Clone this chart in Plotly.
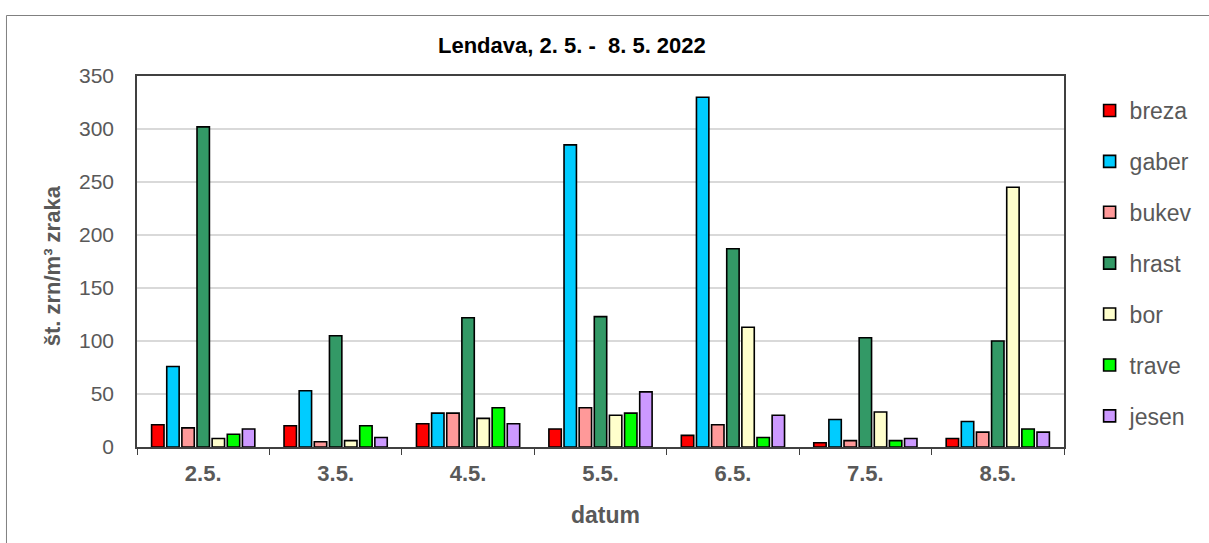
import plotly.graph_objects as go

dates = ["2.5.", "3.5.", "4.5.", "5.5.", "6.5.", "7.5.", "8.5."]
species = ["breza", "gaber", "bukev", "hrast", "bor", "trave", "jesen"]
breza = [21, 20, 22, 17, 11, 4, 8]
gaber = [76, 53, 32, 285, 330, 26, 24]
bukev = [18, 5, 32, 37, 21, 6, 14]
hrast = [302, 105, 122, 123, 187, 103, 100]
bor = [8, 6, 27, 30, 113, 33, 245]
trave = [12, 20, 37, 32, 9, 6, 17]
jesen = [17, 9, 22, 52, 30, 8, 14]
colors = ["#FF0000", "#00CCFF", "#FF9999", "#339966", "#FFFFCC", "#00FF00", "#CC99FF"]

series = [breza, gaber, bukev, hrast, bor, trave, jesen]

W, H = 1209, 543
L, R, T, B = 137, 1078, 76, 447
pw, ph = R - L, B - T

def px(x):
    return (x - L) / pw

def py(y):
    return (B - y) / ph

font = "Liberation Sans, Arial"
gray = "#595959"

fig = go.Figure()
for name, vals, c in zip(species, series, colors):
    fig.add_trace(go.Bar(
        x=dates, y=vals, name=name, legendgroup=name,
        marker=dict(color=c, line=dict(color="black", width=1.6)),
    ))

fig.update_layout(
    width=W, height=H,
    margin=dict(l=L, r=W - R, t=T, b=H - B),
    paper_bgcolor="white", plot_bgcolor="white",
    barmode="group", bargap=0.2, bargroupgap=0.18,
    showlegend=True,
    legend=dict(
        x=px(1104), y=py(89), xanchor="left", yanchor="top",
        font=dict(family=font, size=23, color=gray),
        tracegroupgap=18,
        bgcolor="rgba(0,0,0,0)",
    ),
    xaxis=dict(
        showline=True, linecolor="#404040", linewidth=1.5, mirror=True,
        ticks="outside", tickson="boundaries", ticklen=6, tickcolor="#404040",
        tickfont=dict(family=font, size=22, color=gray, weight="bold"),
        ticklabelstandoff=6,
        showgrid=False,
    ),
    yaxis=dict(
        range=[0, 350], dtick=50,
        showline=True, linecolor="#404040", linewidth=1.5, mirror=True,
        gridcolor="#D9D9D9", gridwidth=1.5,
        tickfont=dict(family=font, size=21, color=gray),
        ticklabelstandoff=17,
        zeroline=False,
    ),
    annotations=[
        dict(text="<b>Lendava, 2. 5. -  8. 5. 2022</b>", x=px(579), y=py(46),
             xref="paper", yref="paper", showarrow=False,
             xanchor="center", yanchor="middle",
             font=dict(family=font, size=22, color="black")),
        dict(text="<b>datum</b>", x=px(613), y=py(515),
             xref="paper", yref="paper", showarrow=False,
             xanchor="center", yanchor="middle",
             font=dict(family=font, size=23, color=gray)),
        dict(text="<b>št. zrn/m³ zraka</b>", x=px(51), y=py(266),
             xref="paper", yref="paper", showarrow=False, textangle=-90,
             xanchor="center", yanchor="middle",
             font=dict(family=font, size=22, color=gray)),
    ],
    shapes=[
        dict(type="rect", xref="paper", yref="paper",
             x0=px(4.5), y0=py(560), x1=px(1230), y1=py(15.5),
             line=dict(color="#808080", width=1), fillcolor="rgba(0,0,0,0)",
             layer="below"),
    ],
)

fig.write_html(
    "out.html",
    config={"displayModeBar": False},
    post_script="document.body.style.margin='0';document.body.style.overflow='hidden';",
)
